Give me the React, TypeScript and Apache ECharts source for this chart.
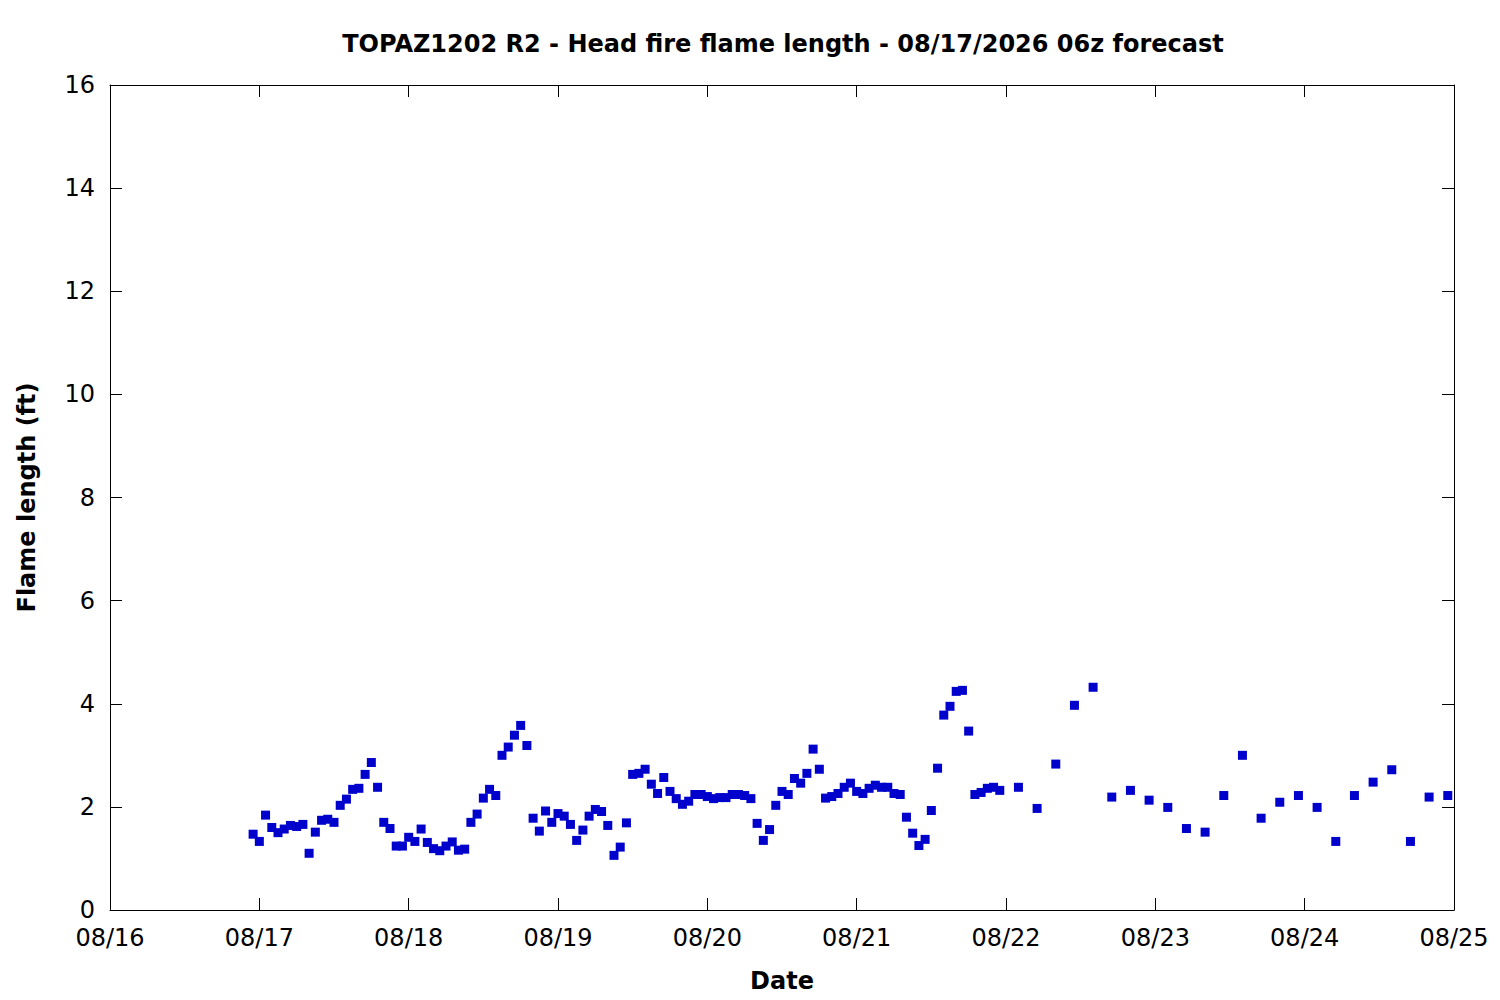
import React, { useEffect, useRef } from "react";
import * as echarts from "echarts";

// Hours since 08/16 00:00 for each forecast value
const forecastHours: number[] = [
  23, 24, 25, 26, 27, 28, 29, 30, 31, 32, 33, 34, 35, 36, 37, 38, 39, 40, 41, 42,
  43, 44, 45, 46, 47, 48, 49, 50, 51, 52, 53, 54, 55, 56, 57, 58, 59, 60, 61, 62,
  63, 64, 65, 66, 67, 68, 69, 70, 71, 72, 73, 74, 75, 76, 77, 78, 79, 80, 81, 82,
  83, 84, 85, 86, 87, 88, 89, 90, 91, 92, 93, 94, 95, 96, 97, 98, 99, 100, 101, 102,
  103, 104, 105, 106, 107, 108, 109, 110, 111, 112, 113, 114, 115, 116, 117, 118, 119, 120, 121, 122,
  123, 124, 125, 126, 127, 128, 129, 130, 131, 132, 133, 134, 135, 136, 137, 138, 139, 140, 141, 142,
  143,
  146, 149, 152, 155, 158, 161, 164, 167, 170, 173, 176, 179, 182, 185, 188, 191, 194, 197, 200, 203,
  206, 209, 212, 215,
];

// Head fire flame length (ft)
const flameLengthFt: number[] = [
  1.47, 1.33, 1.84, 1.60, 1.50, 1.57, 1.64, 1.62, 1.66, 1.10, 1.51, 1.74, 1.76, 1.70, 2.03, 2.15, 2.34, 2.36, 2.63, 2.86,
  2.38, 1.70, 1.58, 1.24, 1.24, 1.41, 1.33, 1.57, 1.31, 1.19, 1.15, 1.24, 1.32, 1.16, 1.18, 1.70, 1.86, 2.17, 2.34, 2.22,
  3.00, 3.16, 3.39, 3.58, 3.19, 1.78, 1.53, 1.92, 1.70, 1.87, 1.82, 1.66, 1.35, 1.55, 1.82, 1.95, 1.91, 1.64, 1.06, 1.22,
  1.69, 2.63, 2.65, 2.73, 2.44, 2.26, 2.57, 2.30, 2.16, 2.05, 2.11, 2.24, 2.24, 2.20, 2.16, 2.18, 2.18, 2.24, 2.24, 2.22,
  2.16, 1.68, 1.35, 1.56, 2.03, 2.30, 2.24, 2.55, 2.46, 2.65, 3.12, 2.73, 2.17, 2.20, 2.26, 2.38, 2.46, 2.30, 2.26, 2.36,
  2.42, 2.38, 2.38, 2.26, 2.24, 1.80, 1.49, 1.25, 1.37, 1.93, 2.75, 3.78, 3.95, 4.24, 4.26, 3.47, 2.24, 2.28, 2.36, 2.38,
  2.32,
  2.38, 1.97, 2.83, 3.97, 4.32, 2.19, 2.32, 2.13, 1.99, 1.58, 1.51, 2.22, 3.00, 1.78, 2.09, 2.22, 1.99, 1.33, 2.22, 2.48,
  2.72, 1.33, 2.19, 2.22,
];

// X tick labels (one per day, every 24 h starting 08/16 00:00)
const dateTickLabels: string[] = ["08/16", "08/17", "08/18", "08/19", "08/20", "08/21", "08/22", "08/23", "08/24", "08/25"];

const titleText = "TOPAZ1202 R2 - Head fire flame length - 08/17/2026 06z forecast";
const xAxisTitle = "Date";
const yAxisTitle = "Flame length (ft)";

const FONT = "DejaVu Sans";

export default function App() {
  const ref = useRef<HTMLDivElement>(null);

  useEffect(() => {
    if (!ref.current) return;
    const chart = echarts.init(ref.current, null, { renderer: "svg" });
    const points = forecastHours.map((h, i) => [h, flameLengthFt[i]]);

    const axisLine = { show: true, onZero: false, lineStyle: { color: "#000", width: 1 } };
    const axisTick = { show: true, inside: true, length: 12, lineStyle: { color: "#000", width: 1 } };

    chart.setOption({
      animation: false,
      backgroundColor: "#fff",
      textStyle: { fontFamily: FONT },
      title: {
        text: titleText,
        left: 783,
        top: 32,
        padding: 0,
        textAlign: "center",
        textStyle: { fontFamily: FONT, fontWeight: "bold", fontSize: 24, color: "#000" },
      },
      grid: { left: 110, right: 46, top: 85, bottom: 90, containLabel: false },
      xAxis: [
        {
          type: "value",
          min: 0,
          max: 216,
          interval: 24,
          position: "bottom",
          axisLine,
          axisTick,
          splitLine: { show: false },
          axisLabel: {
            show: true,
            margin: 16,
            color: "#000",
            fontFamily: FONT,
            fontSize: 24,
            formatter: (v: number) => dateTickLabels[Math.round(v / 24)] ?? "",
          },
          name: xAxisTitle,
          nameLocation: "middle",
          nameGap: 59,
          nameTextStyle: { fontFamily: FONT, fontWeight: "bold", fontSize: 24, color: "#000" },
        },
        {
          type: "value",
          min: 0,
          max: 216,
          interval: 24,
          position: "top",
          axisLine,
          axisTick,
          splitLine: { show: false },
          axisLabel: { show: false },
        },
      ],
      yAxis: [
        {
          type: "value",
          min: 0,
          max: 16,
          interval: 2,
          position: "left",
          axisLine,
          axisTick,
          splitLine: { show: false },
          axisLabel: { show: true, margin: 15, color: "#000", fontFamily: FONT, fontSize: 24 },
          name: yAxisTitle,
          nameLocation: "middle",
          nameGap: 71,
          nameTextStyle: { fontFamily: FONT, fontWeight: "bold", fontSize: 24, color: "#000" },
        },
        {
          type: "value",
          min: 0,
          max: 16,
          interval: 2,
          position: "right",
          axisLine,
          axisTick,
          splitLine: { show: false },
          axisLabel: { show: false },
        },
      ],
      series: [
        {
          type: "scatter",
          xAxisIndex: 0,
          yAxisIndex: 0,
          data: points,
          symbol: "rect",
          symbolSize: 9,
          itemStyle: { color: "#0000cc", opacity: 1 },
          emphasis: { disabled: true },
        },
      ],
    });
    return () => chart.dispose();
  }, []);

  return (
    <div
      ref={ref}
      style={{ position: "absolute", left: 0, top: 0, width: 1500, height: 1000, background: "#fff" }}
    />
  );
}
